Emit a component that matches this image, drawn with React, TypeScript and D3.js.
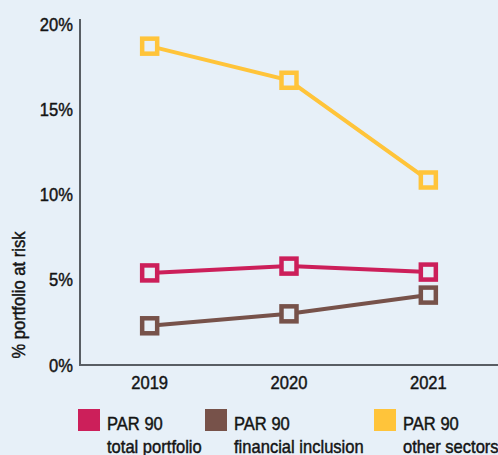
import React from "react";
import * as d3 from "d3";

const years = ["2019", "2020", "2021"];
const totalPortfolio = [5.4, 5.8, 5.45];
const financialInclusion = [2.3, 3.0, 4.1];
const otherSectors = [18.7, 16.7, 10.85];
const yTicks = [0, 5, 10, 15, 20];
const seriesNames = ["total portfolio", "financial inclusion", "other sectors"];
const seriesColors = ["#cc1f5a", "#77524a", "#ffc43a"];

const W = 498;
const H = 455;
const BG = "#e7f0f8";
const FONT = "'Liberation Sans', Arial, sans-serif";
const SX = 0.92;

// condensed, slightly heavy label
function Label(props: {
  x: number;
  y: number;
  anchor?: string;
  rotate?: number;
  children: React.ReactNode;
}) {
  const { x, y, anchor = "start", rotate = 0 } = props;
  return (
    <text
      transform={`translate(${x},${y}) rotate(${rotate}) scale(${SX},1)`}
      textAnchor={anchor}
      fontSize={18}
      fill="#141414"
      stroke="#141414"
      strokeWidth={0.45}
    >
      {props.children}
    </text>
  );
}

export default function App() {
  const x = d3.scalePoint<string>().domain(years).range([80, W]).padding(0.5);
  const y = d3.scaleLinear().domain([0, 20]).range([365, 24]);
  const line = d3
    .line<number>()
    .x((_, i) => x(years[i]) as number)
    .y((d) => y(d));

  const series = [totalPortfolio, financialInclusion, otherSectors];
  const legendX = [78, 205, 374];

  return (
    <svg
      width={W}
      height={H}
      style={{ position: "absolute", left: 0, top: 0, background: BG }}
      fontFamily={FONT}
    >
      <rect width={W} height={H} fill={BG} />

      {/* axes */}
      <line x1={80} x2={80} y1={19} y2={y(0)} stroke="#595e64" strokeWidth={2} />
      <line x1={79} x2={W} y1={y(0)} y2={y(0)} stroke="#595e64" strokeWidth={2} />

      {yTicks.map((t) => (
        <Label key={t} x={73} y={y(t) + 6.5} anchor="end">
          {t}%
        </Label>
      ))}

      {years.map((yr) => (
        <Label key={yr} x={x(yr) as number} y={388.5} anchor="middle">
          {yr}
        </Label>
      ))}

      <Label x={25} y={295} anchor="middle" rotate={-90}>
        % portfolio at risk
      </Label>

      {/* lines */}
      {series.map((s, si) => (
        <g key={si}>
          <path d={line(s) || ""} fill="none" stroke={seriesColors[si]} strokeWidth={4} />
          {s.map((v, i) => (
            <rect
              key={i}
              x={(x(years[i]) as number) - 7.5}
              y={y(v) - 7.5}
              width={15}
              height={15}
              fill={BG}
              stroke={seriesColors[si]}
              strokeWidth={4.5}
            />
          ))}
        </g>
      ))}

      {/* legend */}
      {seriesNames.map((n, i) => (
        <g key={n} transform={`translate(${legendX[i]},409)`}>
          <rect width={22} height={22} fill={seriesColors[i]} />
          <Label x={29} y={21}>
            PAR 90
          </Label>
          <Label x={29} y={44}>
            {n}
          </Label>
        </g>
      ))}
    </svg>
  );
}
